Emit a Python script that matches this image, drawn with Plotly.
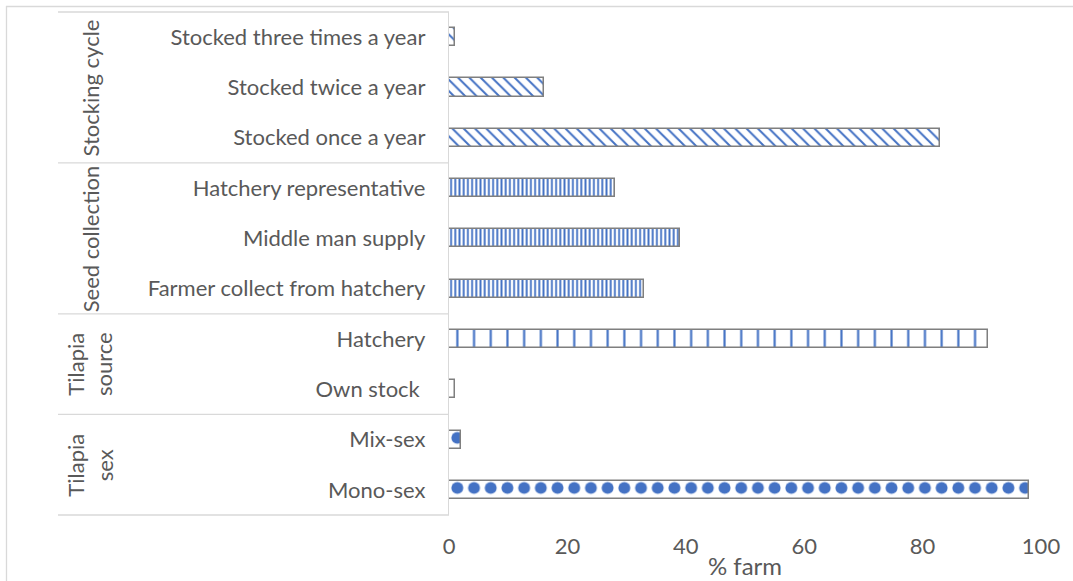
import plotly.graph_objects as go

# ---- data -------------------------------------------------------------
categories = [
    "Mono-sex", "Mix-sex",
    "Own stock\u00a0", "Hatchery",
    "Farmer collect from hatchery", "Middle man supply", "Hatchery representative",
    "Stocked once a year", "Stocked twice a year", "Stocked three times a year",
]
percent_farm = [98, 2, 1, 91, 33, 39, 28, 83, 16, 1]

groups = ["Tilapia<br>sex", "Tilapia<br>source", "Seed collection", "Stocking cycle"]
group_sizes = [2, 2, 3, 3]

x_ticks = [0, 20, 40, 60, 80, 100]

# ---- styling ----------------------------------------------------------
W, H = 1073, 581
M_L, M_R, M_T, M_B = 449, 32, 12, 66
PLOT_W = W - M_L - M_R
PLOT_H = H - M_T - M_B

FONT = "Lato"
FS = 22
TEXT = "#595959"
BLUE = "#4472C4"
LINE = "#d9d9d9"

# fill pattern for each group (shape, size, solidity)
group_patterns = [
    (".", 16.7, 0.40),
    ("|", 16.7, 0.13),
    ("|", 4.2, 0.45),
    ("\\", 8, 0.25),
]


def px_x(px):
    """Horizontal pixel position -> paper coordinate."""
    return (px - M_L) / PLOT_W


def px_y(py):
    """Vertical pixel position -> paper coordinate."""
    return 1 - (py - M_T) / PLOT_H


shapes_, sizes_, solid_ = [], [], []
for (shp, sz, sol), n in zip(group_patterns, group_sizes):
    shapes_ += [shp] * n
    sizes_ += [sz] * n
    solid_ += [sol] * n

fig = go.Figure(
    go.Bar(
        y=categories,
        x=percent_farm,
        orientation="h",
        width=0.36,
        marker=dict(
            color="white",
            line=dict(color="#7f7f7f", width=1.5),
            pattern=dict(
                shape=shapes_,
                size=sizes_,
                solidity=solid_,
                fgcolor=BLUE,
                bgcolor="white",
                fillmode="replace",
            ),
        ),
        hoverinfo="skip",
    )
)

# group separators and group labels on the left
n_cat = len(categories)
shapes = []
annotations = []
start = 0
boundaries = [0]
for g, n in zip(groups, group_sizes):
    centre = start + (n - 1) / 2
    annotations.append(dict(
        text=g, xref="paper", yref="y", x=px_x(90), y=centre,
        textangle=-90, showarrow=False, xanchor="center", yanchor="middle",
        font=dict(family=FONT, size=FS, color=TEXT),
    ))
    start += n
    boundaries.append(start)

for b in boundaries:
    yb = b / n_cat  # category band edge as a fraction of the plot height
    shapes.append(dict(
        type="line", xref="paper", yref="paper",
        x0=px_x(58), x1=0, y0=yb, y1=yb,
        line=dict(color=LINE, width=1.3),
    ))

# chart frame (top and left edges)
shapes.append(dict(
    type="line", xref="paper", yref="paper",
    x0=px_x(6), x1=px_x(W + 5), y0=px_y(6.5), y1=px_y(6.5),
    line=dict(color=LINE, width=1.3),
))
shapes.append(dict(
    type="line", xref="paper", yref="paper",
    x0=px_x(6.5), x1=px_x(6.5), y0=px_y(6), y1=px_y(H + 5),
    line=dict(color=LINE, width=1.3),
))

fig.update_layout(
    width=W, height=H,
    margin=dict(l=M_L, r=M_R, t=M_T, b=M_B, pad=0),
    paper_bgcolor="white", plot_bgcolor="white",
    showlegend=False,
    font=dict(family=FONT, size=FS, color=TEXT),
    shapes=shapes,
    annotations=annotations,
    bargap=0,
)

fig.update_xaxes(
    range=[0, 100], tickvals=x_ticks, ticktext=[str(v) for v in x_ticks],
    showgrid=False, zeroline=False, showline=False, ticks="",
    ticklabelstandoff=16, automargin=False,
    title=dict(text="% farm", standoff=0, font=dict(family=FONT, size=24, color=TEXT)),
    tickfont=dict(family=FONT, size=FS, color=TEXT),
)
fig.update_yaxes(
    type="category", categoryorder="array", categoryarray=categories,
    range=[-0.5, n_cat - 0.5],
    showgrid=False, zeroline=False, showline=True, linecolor=LINE, linewidth=1.3,
    ticks="", ticklabelstandoff=18, automargin=False,
    tickfont=dict(family=FONT, size=FS, color=TEXT),
)

fig.write_html("out.html", config={"displayModeBar": False})
